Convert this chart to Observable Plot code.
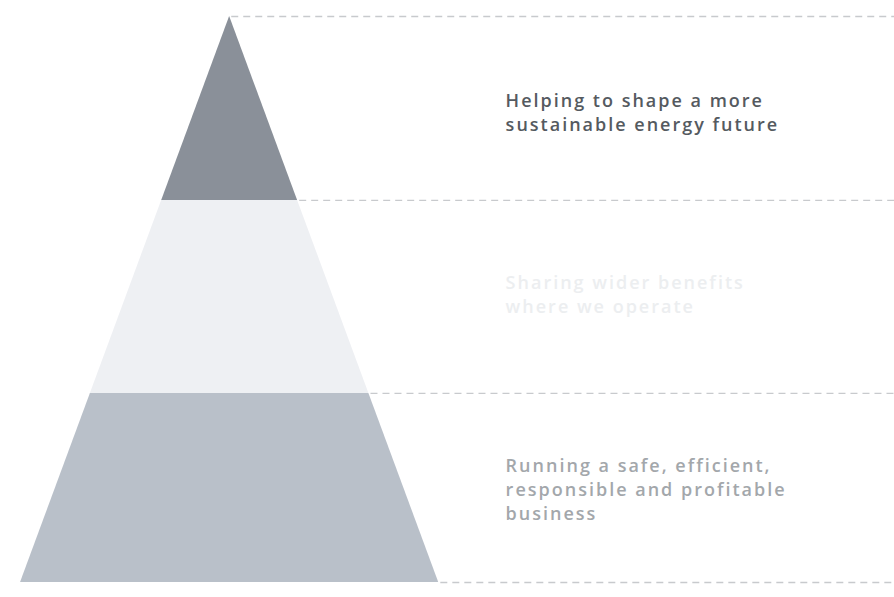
<!DOCTYPE html>
<html>
<head>
<meta charset="utf-8">
<script src="https://cdn.jsdelivr.net/npm/d3@7"></script>
<script src="https://cdn.jsdelivr.net/npm/@observablehq/plot@0.6"></script>
<style>
  html, body { margin: 0; padding: 0; background: #ffffff; }
  #chart svg { display: block; }
</style>
</head>
<body>
<div id="chart"></div>
<script>
// Tiers of the pyramid, bottom to top
const tiers = ["Running a safe, efficient,\nresponsible and profitable\nbusiness",
               "Sharing wider benefits\nwhere we operate",
               "Helping to shape a more\nsustainable energy future"];
// Level boundaries of each tier (0 = base, 100 = apex)
const tierBottom = [0, 33.4, 67.5];
const tierTop    = [33.4, 67.5, 100];
const tierFill   = ["#b9c0c9", "#eef0f3", "#8a9099"];
const textFill   = ["#a3a7ab", "#eceef0", "#555a60"];
const textDy     = [0, -4, 3];

// half-width of pyramid at a given level (base half-width = 1)
const half = v => 1 - v / 100;

const polys = [];
tiers.forEach((t, i) => {
  for (const v of [tierBottom[i], tierTop[i]]) {
    polys.push({tier: i, y: v, x1: -half(v), x2: half(v)});
  }
});

const xMax = 3.18;
const levels = [0, 33.4, 67.5, 100];
const rules = levels.map(v => ({y: v, x1: half(v) + 0.01, x2: xMax}));

const labels = tiers.map((t, i) => ({
  text: t, i, y: (tierBottom[i] + tierTop[i]) / 2, x: 1.32
}));

const chart = Plot.plot({
  width: 894,
  height: 597,
  margin: 0,
  marginTop: 16,
  marginBottom: 15,
  x: {domain: [-1.096, xMax], axis: null},
  y: {domain: [0, 100], axis: null},
  marks: [
    Plot.areaX(polys, {y: "y", x1: "x1", x2: "x2", z: "tier",
      fill: d => tierFill[d.tier], curve: "linear"}),
    Plot.ruleY(rules, {y: "y", x1: "x1", x2: "x2", stroke: "#c8cacd",
      strokeWidth: 1.3, strokeDasharray: "7,5"}),
    ...labels.map(d => Plot.text([d], {x: "x", y: "y", text: "text",
      textAnchor: "start", lineAnchor: "middle", lineHeight: 1.33,
      fill: textFill[d.i], dy: textDy[d.i],
      fontSize: 18, fontWeight: 600, fontFamily: "'Open Sans', Lato, sans-serif"}))
  ]
});
chart.querySelectorAll("text").forEach(t => t.style.letterSpacing = "2px");
document.getElementById("chart").appendChild(chart);
</script>
</body>
</html>
